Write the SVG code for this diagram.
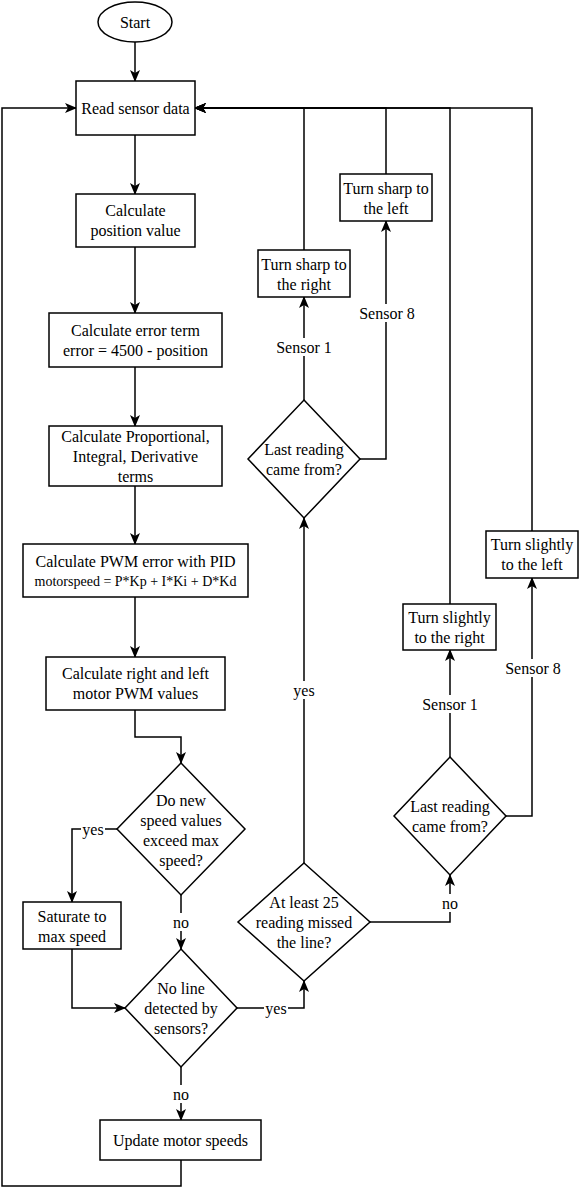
<svg xmlns="http://www.w3.org/2000/svg" width="580" height="1188" viewBox="0 0 580 1188">
<style>
.n{fill:#fff;stroke:#000;stroke-width:1.5}
.t{font-family:"Liberation Serif","Times New Roman",serif;font-size:16px;fill:#000;text-anchor:middle;dominant-baseline:central}
.s{font-size:14px}
.c{fill:none;stroke:#000;stroke-width:1.5}
.a{marker-end:url(#arr)}
.lb{fill:#fff;stroke:none}
</style>
<defs>
<marker id="arr" viewBox="0 0 12 10" refX="11" refY="5" markerWidth="12" markerHeight="10" markerUnits="userSpaceOnUse" orient="auto">
<path d="M0,0 L12,5 L0,10 L3,5 Z" fill="#000"/>
</marker>
</defs>
<rect width="580" height="1188" fill="#fff"/>
<g id="connectors">
<path class="c a" d="M135,42 V81"/>
<path class="c a" d="M135,135 V194"/>
<path class="c a" d="M135,247 V313"/>
<path class="c a" d="M135,367 V426"/>
<path class="c a" d="M135,486 V544"/>
<path class="c a" d="M135,597 V657"/>
<path class="c a" d="M135,710 V737 H181 V763"/>
<path class="c a" d="M117,829 H72 V902"/>
<path class="c a" d="M181,895 V949"/>
<path class="c a" d="M72,949 V1008 H125"/>
<path class="c a" d="M237,1008 H304 V981"/>
<path class="c a" d="M181,1067 V1120"/>
<path class="c a" d="M181,1160 V1186 H2 V108 H76"/>
<path class="c a" d="M304,863 V518"/>
<path class="c a" d="M370,922 H450 V875"/>
<path class="c a" d="M304,400 V297"/>
<path class="c a" d="M360,459 H386 V221"/>
<path class="c a" d="M450,757 V650"/>
<path class="c a" d="M506,816 H532 V578"/>
<path class="c a" d="M304,250 V108 H195"/>
<path class="c a" d="M386,174 V108 H195"/>
<path class="c a" d="M450,604 V108 H195"/>
<path class="c a" d="M532,531 V108 H195"/>
<g id="labels">
<rect class="lb" x="81" y="820" width="24" height="18"/><text class="t" x="93" y="829">yes</text>
<rect class="lb" x="171" y="913" width="20" height="18"/><text class="t" x="181" y="922">no</text>
<rect class="lb" x="264" y="999" width="24" height="18"/><text class="t" x="276" y="1008">yes</text>
<rect class="lb" x="171" y="1085" width="20" height="18"/><text class="t" x="181" y="1094">no</text>
<rect class="lb" x="292" y="681" width="24" height="18"/><text class="t" x="304" y="690">yes</text>
<rect class="lb" x="440" y="894" width="20" height="18"/><text class="t" x="450" y="903">no</text>
<rect class="lb" x="275" y="338" width="58" height="18"/><text class="t" x="304" y="347">Sensor 1</text>
<rect class="lb" x="358" y="304" width="58" height="18"/><text class="t" x="387" y="313">Sensor 8</text>
<rect class="lb" x="421" y="695" width="58" height="18"/><text class="t" x="450" y="704">Sensor 1</text>
<rect class="lb" x="504" y="659" width="58" height="18"/><text class="t" x="533" y="668">Sensor 8</text>
</g>
</g>
<g id="start"><ellipse class="n" cx="135" cy="22" rx="37" ry="20"/><text class="t" x="135" y="22">Start</text></g>
<g id="read"><rect class="n" x="76" y="81" width="119" height="54"/><text class="t" x="135.5" y="108">Read sensor data</text></g>
<g id="calcpos"><rect class="n" x="76" y="194" width="119" height="53"/><text class="t" x="135.5" y="210.5">Calculate</text><text class="t" x="135.5" y="230.5">position value</text></g>
<g id="calcerr"><rect class="n" x="49" y="313" width="173" height="54"/><text class="t" x="135.5" y="330">Calculate error term</text><text class="t" x="135.5" y="350">error = 4500 - position</text></g>
<g id="calcpid"><rect class="n" x="49" y="426" width="173" height="60"/><text class="t" x="135.5" y="436">Calculate Proportional,</text><text class="t" x="135.5" y="456">Integral, Derivative</text><text class="t" x="135.5" y="476">terms</text></g>
<g id="calcpwm"><rect class="n" x="23" y="544" width="225" height="53"/><text class="t" x="135.5" y="561.5">Calculate PWM error with PID</text><text class="t s" x="135.5" y="581.5">motorspeed = P*Kp + I*Ki + D*Kd</text></g>
<g id="calcrl"><rect class="n" x="46" y="657" width="179" height="53"/><text class="t" x="135.5" y="673.5">Calculate right and left</text><text class="t" x="135.5" y="693.5">motor PWM values</text></g>
<g id="exceed"><polygon class="n" points="181,763 245,829 181,895 117,829"/><text class="t" x="181" y="800">Do new</text><text class="t" x="181" y="820">speed values</text><text class="t" x="181" y="840">exceed max</text><text class="t" x="181" y="860">speed?</text></g>
<g id="saturate"><rect class="n" x="23" y="902" width="98" height="47"/><text class="t" x="72" y="916">Saturate to</text><text class="t" x="72" y="936">max speed</text></g>
<g id="noline"><polygon class="n" points="181,949 237,1008 181,1067 125,1008"/><text class="t" x="181" y="988">No line</text><text class="t" x="181" y="1008">detected by</text><text class="t" x="181" y="1028">sensors?</text></g>
<g id="update"><rect class="n" x="100" y="1120" width="161" height="40"/><text class="t" x="180.5" y="1140">Update motor speeds</text></g>
<g id="atleast"><polygon class="n" points="304,863 370,922 304,981 238,922"/><text class="t" x="304" y="902">At least 25</text><text class="t" x="304" y="922">reading missed</text><text class="t" x="304" y="942">the line?</text></g>
<g id="last1"><polygon class="n" points="304,400 360,459 304,518 248,459"/><text class="t" x="304" y="449">Last reading</text><text class="t" x="304" y="469">came from?</text></g>
<g id="sharpright"><rect class="n" x="258" y="250" width="92" height="47"/><text class="t" x="304" y="264">Turn sharp to</text><text class="t" x="304" y="284">the right</text></g>
<g id="sharpleft"><rect class="n" x="340" y="174" width="92" height="47"/><text class="t" x="386" y="188.5">Turn sharp to</text><text class="t" x="386" y="208.5">the left</text></g>
<g id="last2"><polygon class="n" points="450,757 506,816 450,875 394,816"/><text class="t" x="450" y="806">Last reading</text><text class="t" x="450" y="826">came from?</text></g>
<g id="slightright"><rect class="n" x="403" y="604" width="93" height="46"/><text class="t" x="449.5" y="617">Turn slightly</text><text class="t" x="449.5" y="637">to the right</text></g>
<g id="slightleft"><rect class="n" x="486" y="531" width="92" height="47"/><text class="t" x="532" y="544.5">Turn slightly</text><text class="t" x="532" y="564.5">to the left</text></g>
</svg>
